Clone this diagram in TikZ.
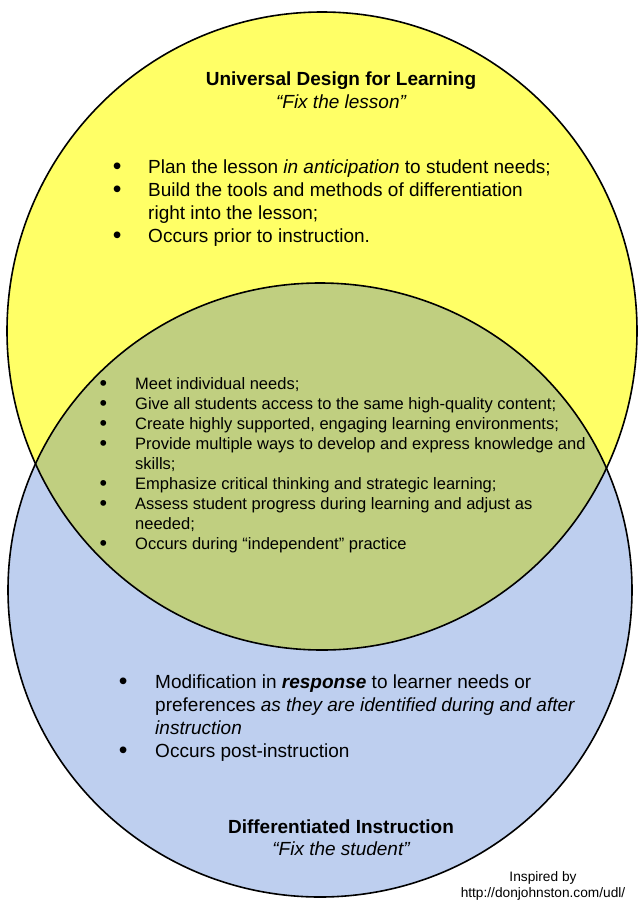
\documentclass[tikz,border=0pt]{standalone}
\usepackage{fontspec}
\setmainfont{Liberation Sans}
\usetikzlibrary{positioning}

\definecolor{lessonyellow}{RGB}{255,255,102}
\definecolor{studentblue}{RGB}{190,207,239}
\definecolor{overlapgreen}{RGB}{192,207,128}

\newcommand{\bigtext}{\fontsize{19}{23}\selectfont}
\newcommand{\midtext}{\fontsize{16.5}{20.1}\selectfont}
\newcommand{\smalltext}{\fontsize{13.7}{16}\selectfont}
\newcommand{\dotmark}{\raisebox{-1pt}{\scalebox{1.3}{\textbullet}}}

\begin{document}
\begin{tikzpicture}[x=1pt,y=-1pt,
  circ/.style={draw=black,line width=1.6pt},
  heading/.style={anchor=base,inner sep=0pt,font=\bigtext\bfseries},
  motto/.style={anchor=base,inner sep=0pt,font=\bigtext\itshape},
  points/.style={anchor=base west,inner sep=0pt}]
  \tikzstyle{every node}=[text=black]

  \useasboundingbox (0,0) rectangle (638,903);

  % the two circles and the part they share
  \fill[lessonyellow] (322,331) ellipse [x radius=315,y radius=319];
  \fill[studentblue] (320,590) ellipse [x radius=312,y radius=307];
  \begin{scope}
    \clip (322,331) ellipse [x radius=315,y radius=319];
    \fill[overlapgreen] (320,590) ellipse [x radius=312,y radius=307];
  \end{scope}
  \draw[circ] (322,331) ellipse [x radius=315,y radius=319];
  \draw[circ] (320,590) ellipse [x radius=312,y radius=307];

  % top circle
  \node[heading] (udl) at (341,85) {Universal Design for Learning};
  \node[motto] (udlsub) at ([yshift=-23]udl.base) {“Fix the lesson”};
  \node[points,font=\bigtext] (udllist) at (112.7,173) {%
    \begin{tabular}[t]{@{}l@{\hspace{26.7pt}}l@{}}
      \dotmark & Plan the lesson \textit{in anticipation} to student needs;\\
      \dotmark & Build the tools and methods of differentiation\\
               & right into the lesson;\\
      \dotmark & Occurs prior to instruction.
    \end{tabular}};

  % shared part
  \node[points,font=\midtext] (both) at (99.3,389) {%
    \begin{tabular}[t]{@{}l@{\hspace{28.2pt}}l@{}}
      \dotmark & Meet individual needs;\\
      \dotmark & Give all students access to the same high-quality content;\\
      \dotmark & Create highly supported, engaging learning environments;\\
      \dotmark & Provide multiple ways to develop and express knowledge and\\
               & skills;\\
      \dotmark & Emphasize critical thinking and strategic learning;\\
      \dotmark & Assess student progress during learning and adjust as\\
               & needed;\\
      \dotmark & Occurs during “independent” practice
    \end{tabular}};

  % bottom circle
  \node[points,font=\bigtext] (dilist) at (118.7,688) {%
    \begin{tabular}[t]{@{}l@{\hspace{27.7pt}}l@{}}
      \dotmark & Modification in \textbf{\textit{response}} to learner needs or\\
               & preferences \textit{as they are identified during and after}\\
               & \textit{instruction}\\
      \dotmark & Occurs post-instruction
    \end{tabular}};
  \node[heading] (di) at (341,833) {Differentiated Instruction};
  \node[motto] (disub) at ([yshift=-22]di.base) {“Fix the student”};

  \node[anchor=base,inner sep=0pt,font=\smalltext] (url) at (543,897) {http://donjohnston.com/udl/};
  \node[anchor=base,inner sep=0pt,font=\smalltext] (inspired) at ([yshift=16]url.base) {Inspired by};
\end{tikzpicture}
\end{document}
